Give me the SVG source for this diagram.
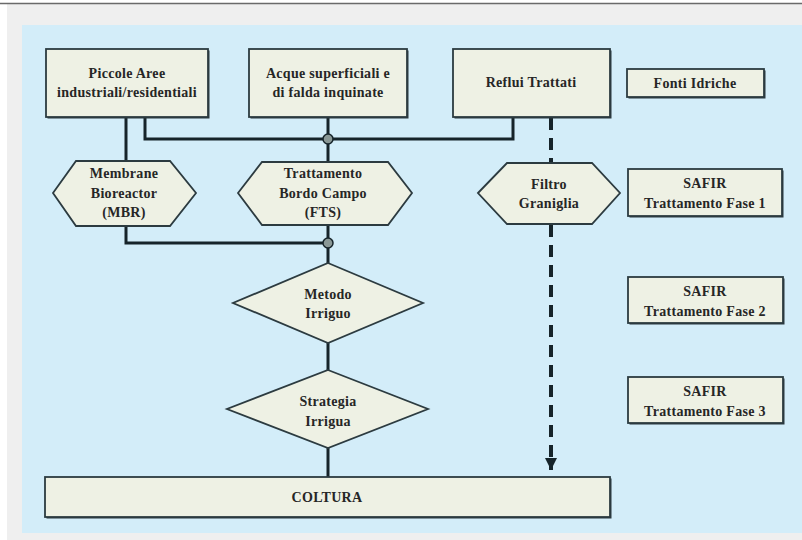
<svg xmlns="http://www.w3.org/2000/svg" width="802" height="540" viewBox="0 0 802 540">
<defs>
<style>
.box{fill:#eef1e4;stroke:#2c3b40;stroke-width:1.8}
.sh{fill:#2c3b40}
.t{font-family:"Liberation Serif",serif;font-weight:bold;font-size:14px;letter-spacing:0.3px;fill:#262626;text-anchor:middle}
.c{fill:none;stroke:#16242a;stroke-width:3}
.d{fill:none;stroke:#16242a;stroke-width:4;stroke-dasharray:12 8}
.j{fill:#8a9896;stroke:#16242a;stroke-width:1.5}
</style>
<marker id="ah" viewBox="0 0 10 10" refX="10" refY="5" markerWidth="3" markerHeight="3" orient="auto" markerUnits="strokeWidth">
<path d="M0,0 L10,5 L0,10 z" fill="#16242a"/>
</marker>
</defs>
<rect x="0" y="0" width="802" height="540" fill="#ffffff"/>
<rect x="7" y="4" width="795" height="536" fill="#efefef"/>
<line x1="0" y1="3.5" x2="802" y2="3.5" stroke="#6a6a6a" stroke-width="1.5"/>
<rect x="22" y="25" width="780" height="508" fill="#d3edf9"/>

<g id="connectors">
<path class="c" d="M126,117 V161"/>
<path class="c" d="M145,117 V139 H513 V117"/>
<path class="c" d="M328,117 V162"/>
<path class="c" d="M126,226 V243 H328"/>
<path class="c" d="M328,225 V263"/>
<path class="c" d="M328,343 V370"/>
<path class="c" d="M328,448 V477"/>
<path class="d" d="M551,118 V163"/>
<path class="d" d="M551,225 V470" marker-end="url(#ah)"/>
<circle class="j" cx="328" cy="139" r="5"/>
<circle class="j" cx="328" cy="243" r="5"/>
</g>

<g id="piccole-aree">
<rect class="sh" x="47.5" y="50.5" width="162" height="68"/>
<rect class="box" x="46" y="49" width="162" height="68"/>
<text class="t" x="127" y="78">Piccole Aree</text>
<text class="t" x="127" y="97">industriali/residentiali</text>
</g>
<g id="acque-superficiali">
<rect class="sh" x="250.5" y="50.5" width="158" height="68"/>
<rect class="box" x="249" y="49" width="158" height="68"/>
<text class="t" x="328" y="78">Acque superficiali e</text>
<text class="t" x="328" y="97">di falda inquinate</text>
</g>
<g id="reflui-trattati">
<rect class="sh" x="454.5" y="50.5" width="157" height="68"/>
<rect class="box" x="453" y="49" width="157" height="68"/>
<text class="t" x="531" y="87">Reflui Trattati</text>
</g>
<g id="fonti-idriche">
<rect class="sh" x="628.5" y="70.5" width="137" height="28"/>
<rect class="box" x="627" y="69" width="137" height="28"/>
<text class="t" x="695" y="88">Fonti Idriche</text>
</g>

<g id="mbr">
<polygon class="box" points="53,193 76,161 170,161 196,193 170,226 76,226"/>
<text class="t" x="124" y="178">Membrane</text>
<text class="t" x="124" y="198">Bioreactor</text>
<text class="t" x="124" y="217">(MBR)</text>
</g>
<g id="fts">
<polygon class="box" points="238,193 262,162 388,162 412,193 388,225 262,225"/>
<text class="t" x="323" y="178">Trattamento</text>
<text class="t" x="323" y="198">Bordo Campo</text>
<text class="t" x="323" y="217">(FTS)</text>
</g>
<g id="filtro-graniglia">
<polygon class="box" points="478,193 507,163 592,163 620,193 592,224 507,224"/>
<text class="t" x="549" y="189">Filtro</text>
<text class="t" x="549" y="208">Graniglia</text>
</g>
<g id="safir-1">
<rect class="sh" x="629.5" y="170.5" width="154" height="47"/>
<rect class="box" x="628" y="169" width="154" height="47"/>
<text class="t" x="705" y="188">SAFIR</text>
<text class="t" x="705" y="208">Trattamento Fase 1</text>
</g>

<g id="metodo-irriguo">
<polygon class="box" points="328,263 423,303 328,343 233,303"/>
<text class="t" x="328" y="299">Metodo</text>
<text class="t" x="328" y="318">Irriguo</text>
</g>
<g id="safir-2">
<rect class="sh" x="629.5" y="278.5" width="155" height="46"/>
<rect class="box" x="628" y="277" width="155" height="46"/>
<text class="t" x="705" y="296">SAFIR</text>
<text class="t" x="705" y="316">Trattamento Fase 2</text>
</g>

<g id="strategia-irrigua">
<polygon class="box" points="328,370 428,409 328,448 227,409"/>
<text class="t" x="328" y="406">Strategia</text>
<text class="t" x="328" y="426">Irrigua</text>
</g>
<g id="safir-3">
<rect class="sh" x="629.5" y="378.5" width="155" height="46"/>
<rect class="box" x="628" y="377" width="155" height="46"/>
<text class="t" x="705" y="396">SAFIR</text>
<text class="t" x="705" y="416">Trattamento Fase 3</text>
</g>

<g id="coltura">
<rect class="sh" x="46.5" y="478.5" width="565" height="40"/>
<rect class="box" x="45" y="477" width="565" height="40"/>
<text class="t" x="327" y="502">COLTURA</text>
</g>
</svg>
